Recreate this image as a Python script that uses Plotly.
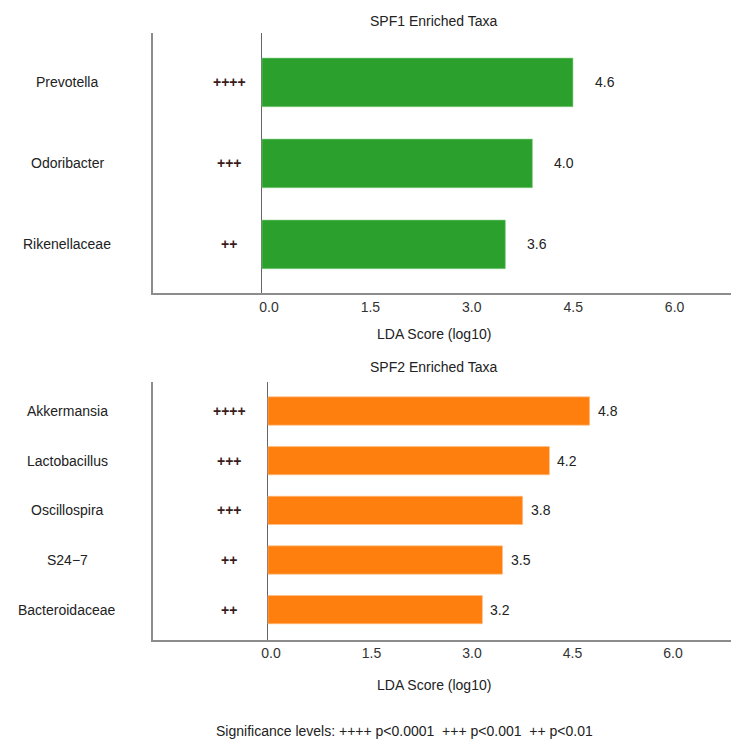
import plotly.graph_objects as go

# LDA effect sizes of taxa enriched in each group
spf1_taxa = ["Prevotella", "Odoribacter", "Rikenellaceae"]
spf1_lda = [4.6, 4.0, 3.6]
spf1_sig = ["++++", "+++", "++"]

spf2_taxa = ["Akkermansia", "Lactobacillus", "Oscillospira", "S24\u22127", "Bacteroidaceae"]
spf2_lda = [4.8, 4.2, 3.8, 3.5, 3.2]
spf2_sig = ["++++", "+++", "+++", "++", "++"]

tick_vals = [0.0, 1.5, 3.0, 4.5, 6.0]
tick_text = ["0.0", "1.5", "3.0", "4.5", "6.0"]

W, H = 731, 743
L_MARGIN = 153
FONT = "Liberation Sans, Arial, Helvetica, sans-serif"
TEXT = "#222222"


def fy(px):
    """Pixel row -> paper y fraction."""
    return 1 - px / H


def fx(px):
    """Pixel column -> paper x fraction of the plotting area."""
    return (px - L_MARGIN) / (W - L_MARGIN)


fig = go.Figure()

fig.add_trace(go.Bar(
    x=spf1_lda, y=spf1_taxa, orientation="h", width=0.6,
    marker=dict(color="#2ca02c", line=dict(color="#7fcf7f", width=0.6)),
    xaxis="x", yaxis="y", hoverinfo="x+y", showlegend=False,
))
fig.add_trace(go.Bar(
    x=spf2_lda, y=spf2_taxa, orientation="h", width=0.57,
    marker=dict(color="#ff7f0e", line=dict(color="#ffc08a", width=0.6)),
    xaxis="x2", yaxis="y2", hoverinfo="x+y", showlegend=False,
))

x_common = dict(
    showline=True, linecolor="#8c8c8c", linewidth=2,
    showgrid=False, zeroline=True, zerolinecolor="#666666", zerolinewidth=1,
    tickvals=tick_vals, ticktext=tick_text, ticks="",
    tickfont=dict(family=FONT, size=14, color="#333333"),
    domain=[0, 1],
)
y_common = dict(
    showline=True, linecolor="#8c8c8c", linewidth=2,
    showgrid=False, zeroline=False, showticklabels=False, ticks="",
    type="category",
)

fig.update_layout(
    width=W, height=H,
    margin=dict(l=L_MARGIN, r=0, t=0, b=0),
    paper_bgcolor="white", plot_bgcolor="white",
    font=dict(family=FONT, size=14, color=TEXT),
    xaxis=dict(x_common, anchor="y", range=[-1.612, 6.938], ticklabelshift=7),
    yaxis=dict(y_common, anchor="x", domain=[fy(293), fy(33)], range=[2.6, -0.61]),
    xaxis2=dict(x_common, anchor="y2", range=[-1.716, 6.91], ticklabelshift=3),
    yaxis2=dict(y_common, anchor="x2", domain=[fy(639.5), fy(381.7)], range=[4.6, -0.59]),
)

ann = []

# panel titles and axis titles
for txt, ypx in [("SPF1 Enriched Taxa", 20.7), ("LDA Score (log10)", 333.7),
                 ("SPF2 Enriched Taxa", 367), ("LDA Score (log10)", 685)]:
    ann.append(dict(text=txt, xref="paper", yref="paper", x=fx(433.5), y=fy(ypx),
                    xanchor="center", yanchor="middle", showarrow=False,
                    font=dict(size=14, color=TEXT)))

ann.append(dict(text="Significance levels: ++++ p<0.0001  +++ p<0.001  ++ p<0.01",
                xref="paper", yref="paper", x=fx(404), y=fy(731),
                xanchor="center", yanchor="middle", showarrow=False,
                font=dict(size=14, color=TEXT)))

panels = [
    (spf1_taxa, spf1_lda, spf1_sig, "x", "y", 20),
    (spf2_taxa, spf2_lda, spf2_sig, "x2", "y2", 6),
]
for taxa, vals, sig, xr, yr, gap in panels:
    for name, v, s in zip(taxa, vals, sig):
        # taxon name, centred in the left gutter
        ann.append(dict(text=name, xref="paper", yref=yr, x=fx(67), y=name,
                        xanchor="center", yanchor="middle", showarrow=False,
                        font=dict(size=14, color=TEXT)))
        # significance marks
        ann.append(dict(text=f"<b>{s}</b>", xref="paper", yref=yr, x=fx(229), y=name,
                        xanchor="center", yanchor="middle", showarrow=False,
                        font=dict(size=14, color="#3a1c1c")))
        # value label beside the bar
        ann.append(dict(text=f"{v:.1f}", xref=xr, yref=yr, x=v, y=name,
                        xanchor="left", yanchor="middle", xshift=gap, showarrow=False,
                        font=dict(size=14, color=TEXT)))

fig.update_layout(annotations=ann)

fig.write_html("out.html")
